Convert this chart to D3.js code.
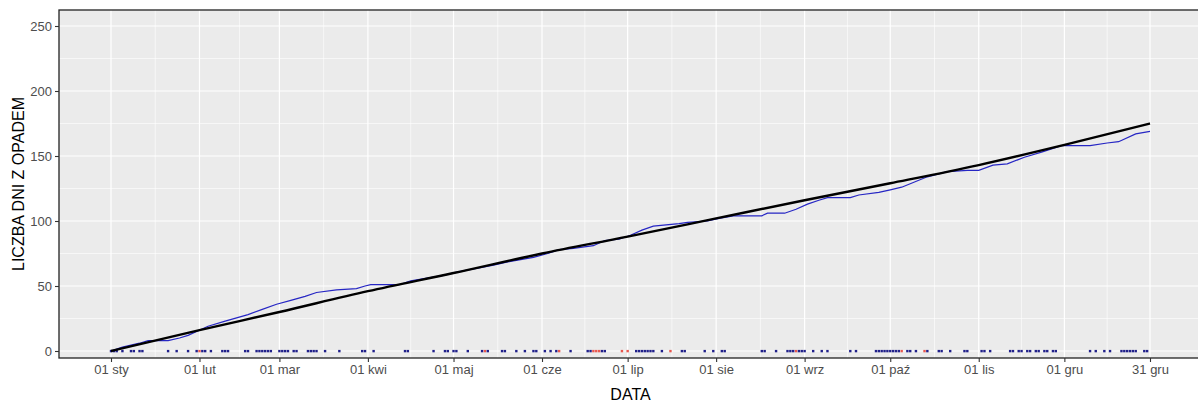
<!DOCTYPE html>
<html lang="pl">
	<head>
		<meta charset="UTF-8" />
		<title>Liczba dni z opadem</title>
		<style>
			body { margin: 0; background: #fff; }
			svg { display: block; font-family: 'Liberation Sans', Arial, sans-serif; }
		</style>
	</head>
	<body>
		<div id="chart"></div>
		<script src="https://cdnjs.cloudflare.com/ajax/libs/d3/7.8.5/d3.min.js"></script>
		<script>
			// dni od 1 stycznia (rok nieprzestępny)
			var year = 2019;

			// cumulative count of days with precipitation (blue line)
			var cumDays = [0, 4, 10, 13, 20, 24, 27, 30, 34, 40, 48, 53, 58, 63, 68, 72, 79, 86, 89, 91, 101, 105, 116, 122, 134, 140, 148, 153, 157, 162, 169, 173, 178, 182, 186, 190, 199, 202, 209, 213, 218, 228, 230, 236, 240, 244, 248, 251, 259, 262, 269, 273, 277, 286, 293, 300, 304, 309, 314, 320, 326, 333, 343, 349, 353, 359, 364];
			var cumValues = [0, 3, 6, 8, 8, 10, 12, 15, 19, 23, 28, 32, 36, 39, 42, 45, 47, 48, 50, 51, 51, 54, 58, 61, 66, 69, 72, 75, 78, 79, 81, 85, 86, 89, 93, 96, 98, 99, 100, 102, 104, 104, 106, 106, 109, 113, 116, 118, 118, 120, 122, 124, 126, 134, 138, 139, 139, 143, 144, 149, 153, 158, 158, 160, 161, 167, 169];

			// mean cumulative count (black line)
			var normDays = [0, 31, 59, 90, 120, 151, 181, 212, 243, 273, 304, 334, 364];
			var normValues = [0, 16, 30, 46, 60, 75, 88, 102, 116, 129, 143, 158.5, 175];

			// days marked at y = 0
			var markDays = [0, 1, 2, 4, 7, 8, 10, 11, 20, 23, 27, 30, 31, 32, 33, 35, 39, 40, 41, 47, 48, 51, 52, 53, 54, 55, 56, 59, 60, 61, 62, 64, 65, 69, 70, 71, 72, 75, 80, 88, 89, 92, 103, 104, 113, 117, 118, 120, 121, 125, 130, 131, 132, 137, 138, 142, 145, 148, 149, 152, 154, 156, 157, 161, 167, 168, 169, 170, 171, 172, 173, 179, 181, 184, 185, 186, 187, 188, 189, 190, 193, 196, 200, 201, 208, 211, 214, 215, 228, 229, 233, 237, 238, 239, 240, 241, 242, 243, 246, 249, 251, 259, 261, 268, 269, 270, 271, 272, 273, 274, 275, 276, 277, 279, 280, 282, 285, 286, 290, 291, 294, 299, 300, 305, 306, 308, 315, 316, 318, 319, 321, 322, 324, 325, 327, 328, 330, 331, 343, 345, 348, 350, 354, 355, 356, 357, 358, 359, 362, 363];
			var redDays = [31, 131, 157, 169, 170, 171, 179, 181, 196, 240, 277, 285];

			var monthLabels = ['sty', 'lut', 'mar', 'kwi', 'maj', 'cze', 'lip', 'sie', 'wrz', 'paź', 'lis', 'gru'];
			var yTicks = [0, 50, 100, 150, 200, 250];

			var width = 1198;
			var height = 403;
			var panel = { left: 59, right: 1202, top: 10, bottom: 358 };

			function dayToDate(d) {
				return new Date(year, 0, 1 + d);
			}

			var x = d3
				.scaleTime()
				.domain([dayToDate(0), dayToDate(364)])
				.range([111, 1150]);
			var y = d3.scaleLinear().domain([0, 250]).range([351, 26]);

			var svg = d3
				.select('#chart')
				.append('svg')
				.attr('width', width)
				.attr('height', height);

			svg.append('rect')
				.attr('x', panel.left)
				.attr('y', panel.top)
				.attr('width', panel.right - panel.left)
				.attr('height', panel.bottom - panel.top)
				.attr('fill', '#ebebeb');

			// tick dates: first of each month + 31 gru
			var xBreaks = monthLabels.map(function (m, i) {
				return new Date(year, i, 1);
			});
			xBreaks.push(new Date(year, 11, 31));
			var xLabels = monthLabels.map(function (m) {
				return '01 ' + m;
			});
			xLabels.push('31 gru');

			var xMinor = [];
			for (var i = 0; i < xBreaks.length - 1; i++) {
				xMinor.push((x(xBreaks[i]) + x(xBreaks[i + 1])) / 2);
			}
			var yMinor = yTicks.slice(0, -1).map(function (v) {
				return v + 25;
			});

			var grid = svg.append('g');
			grid.selectAll('.xminor')
				.data(xMinor)
				.enter()
				.append('line')
				.attr('x1', function (d) { return d; })
				.attr('x2', function (d) { return d; })
				.attr('y1', panel.top)
				.attr('y2', panel.bottom)
				.attr('stroke', '#fff')
				.attr('stroke-width', 0.6);
			grid.selectAll('.yminor')
				.data(yMinor)
				.enter()
				.append('line')
				.attr('x1', panel.left)
				.attr('x2', panel.right)
				.attr('y1', function (d) { return y(d); })
				.attr('y2', function (d) { return y(d); })
				.attr('stroke', '#fff')
				.attr('stroke-width', 0.6);
			grid.selectAll('.xmajor')
				.data(xBreaks)
				.enter()
				.append('line')
				.attr('x1', function (d) { return x(d); })
				.attr('x2', function (d) { return x(d); })
				.attr('y1', panel.top)
				.attr('y2', panel.bottom)
				.attr('stroke', '#fff')
				.attr('stroke-width', 1.2);
			grid.selectAll('.ymajor')
				.data(yTicks)
				.enter()
				.append('line')
				.attr('x1', panel.left)
				.attr('x2', panel.right)
				.attr('y1', function (d) { return y(d); })
				.attr('y2', function (d) { return y(d); })
				.attr('stroke', '#fff')
				.attr('stroke-width', 1.2);

			// marks at zero
			svg.append('g')
				.selectAll('rect')
				.data(markDays)
				.enter()
				.append('rect')
				.attr('x', function (d) { return x(dayToDate(d)) - 1.2; })
				.attr('y', y(0) - 1.1)
				.attr('width', 2.4)
				.attr('height', 2.4)
				.attr('fill', function (d) {
					return redDays.indexOf(d) >= 0 ? '#e8584f' : '#20208a';
				});

			var cumData = cumDays.map(function (d, i) {
				return { date: dayToDate(d), value: cumValues[i] };
			});
			var normData = normDays.map(function (d, i) {
				return { date: dayToDate(d), value: normValues[i] };
			});

			var line = d3
				.line()
				.x(function (d) { return x(d.date); })
				.y(function (d) { return y(d.value); });

			svg.append('path')
				.datum(cumData)
				.attr('d', line)
				.attr('fill', 'none')
				.attr('stroke', '#2626c4')
				.attr('stroke-width', 1.2);

			svg.append('path')
				.datum(normData)
				.attr('d', line.curve(d3.curveMonotoneX))
				.attr('fill', 'none')
				.attr('stroke', '#000')
				.attr('stroke-width', 2.4);

			// panel border
			svg.append('rect')
				.attr('x', panel.left)
				.attr('y', panel.top)
				.attr('width', panel.right - panel.left)
				.attr('height', panel.bottom - panel.top)
				.attr('fill', 'none')
				.attr('stroke', '#222')
				.attr('stroke-width', 1.3);

			// axes
			var xAxis = d3
				.axisBottom(x)
				.tickValues(xBreaks)
				.tickSize(4)
				.tickPadding(3)
				.tickFormat(function (d, i) {
					return xLabels[i];
				});
			var gx = svg
				.append('g')
				.attr('transform', 'translate(0,' + panel.bottom + ')')
				.call(xAxis);
			gx.select('.domain').remove();

			var yAxis = d3.axisLeft(y).tickValues(yTicks).tickSize(4).tickPadding(3);
			var gy = svg
				.append('g')
				.attr('transform', 'translate(' + panel.left + ',0)')
				.call(yAxis);
			gy.select('.domain').remove();

			svg.selectAll('.tick line').attr('stroke', '#333').attr('stroke-width', 1.1);
			svg.selectAll('.tick text')
				.attr('fill', '#4d4d4d')
				.style('font-size', '13px')
				.style('font-family', "'Liberation Sans', Arial, sans-serif");

			svg.append('text')
				.attr('x', (panel.left + panel.right) / 2)
				.attr('y', 400)
				.attr('text-anchor', 'middle')
				.style('font-size', '16px')
				.text('DATA');

			svg.append('text')
				.attr('transform', 'translate(24,' + (panel.top + panel.bottom) / 2 + ') rotate(-90)')
				.attr('text-anchor', 'middle')
				.style('font-size', '16px')
				.text('LICZBA DNI Z OPADEM');
		</script>
	</body>
</html>
